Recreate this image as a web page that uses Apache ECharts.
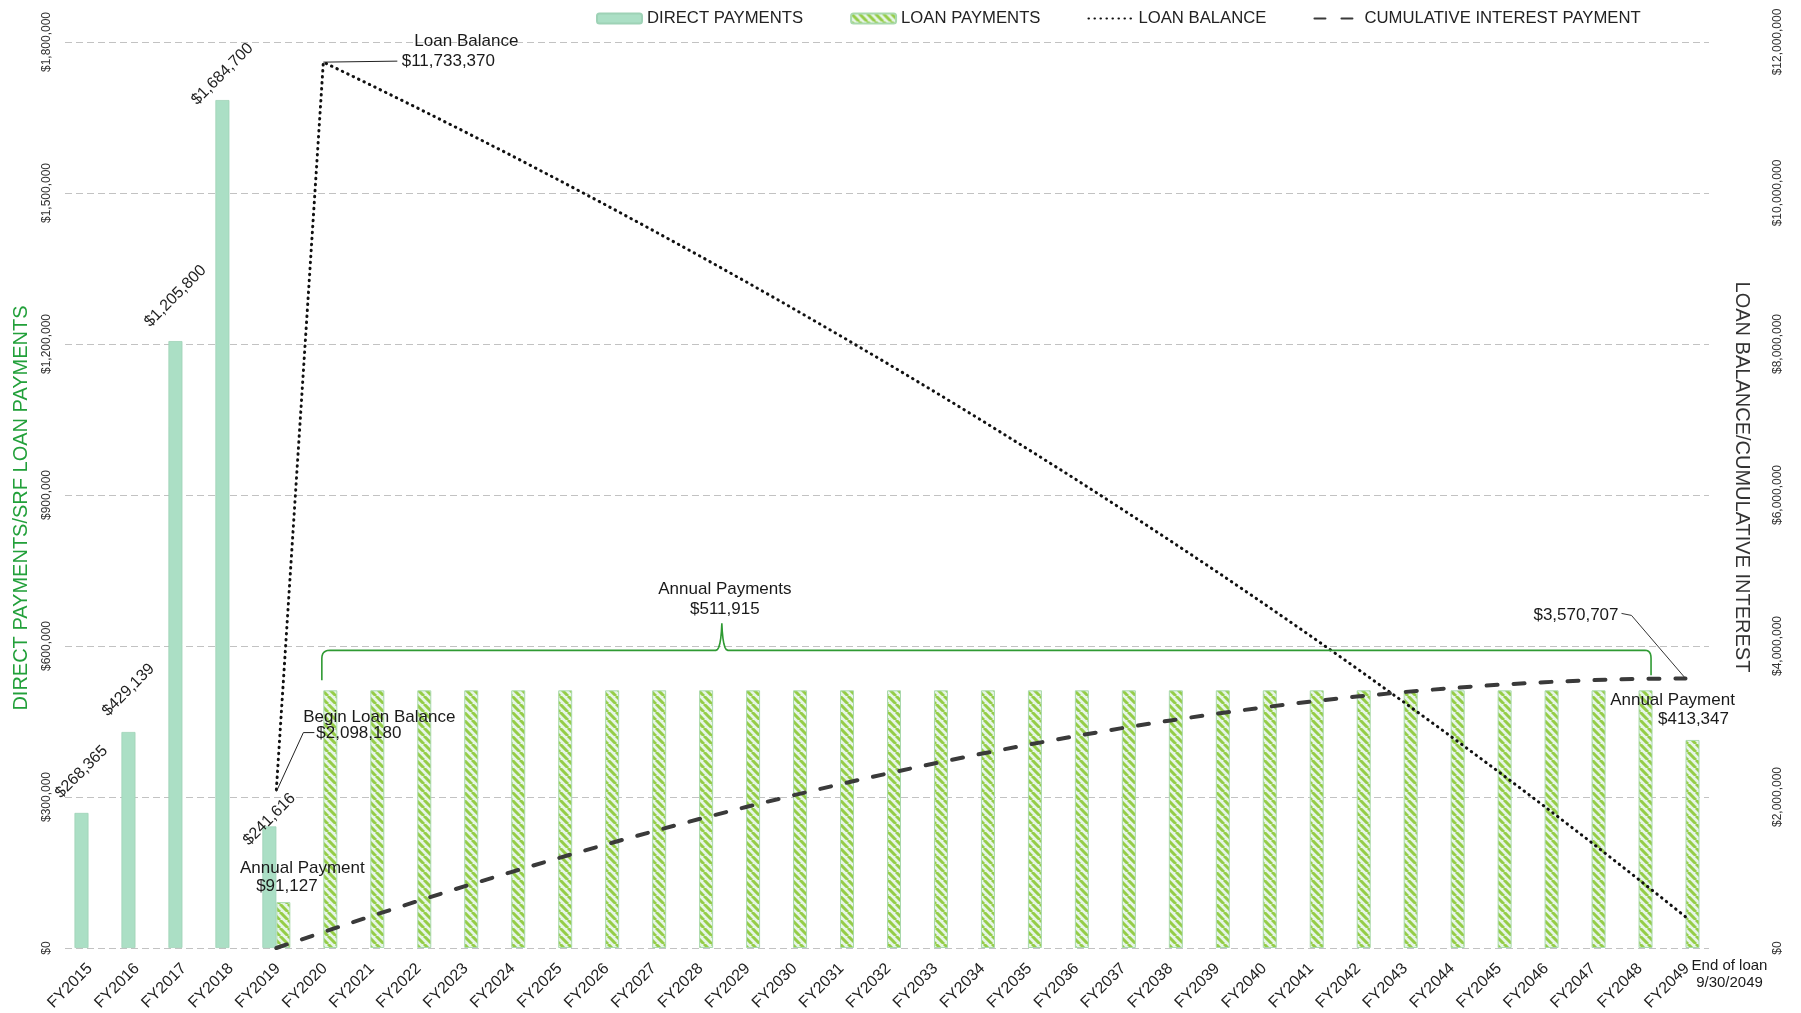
<!DOCTYPE html>
<html>
<head>
<meta charset="utf-8">
<script src="https://cdn.jsdelivr.net/npm/echarts@6/dist/echarts.min.js"></script>
<style>html,body{margin:0;padding:0;background:#fff}#chart{width:1801px;height:1013px}</style>
</head>
<body>
<div id="chart"></div>
<script>
// ---------------- data ----------------
const categories = ['FY2015','FY2016','FY2017','FY2018','FY2019','FY2020','FY2021','FY2022','FY2023','FY2024',
  'FY2025','FY2026','FY2027','FY2028','FY2029','FY2030','FY2031','FY2032','FY2033','FY2034','FY2035','FY2036',
  'FY2037','FY2038','FY2039','FY2040','FY2041','FY2042','FY2043','FY2044','FY2045','FY2046','FY2047','FY2048','FY2049'];
// FY2015..FY2019
const directPayments = [268365, 429139, 1205800, 1684700, 241616];
// FY2019..FY2049
const loanPayments = [91127,
  511915, 511915, 511915, 511915, 511915, 511915, 511915, 511915, 511915, 511915,
  511915, 511915, 511915, 511915, 511915, 511915, 511915, 511915, 511915, 511915,
  511915, 511915, 511915, 511915, 511915, 511915, 511915, 511915, 511915,
  413347];
const loanBalance = [2098180, 11733370, 11433000, 11127000, 10815000, 10498000, 10175000, 9846000, 9511000,
  9171000, 8824000, 8471000, 8111000, 7745000, 7373000, 6994000, 6607000, 6215000, 5814000, 5407000, 4993000,
  4571000, 4141000, 3704000, 3258000, 2805000, 2344000, 1874000, 1396000, 909000, 413000];
const cumulativeInterest = [0, 211000, 418000, 620000, 816000, 1006000, 1190000, 1369000, 1541000, 1708000,
  1868000, 2022000, 2169000, 2310000, 2444000, 2572000, 2692000, 2805000, 2912000, 3011000, 3102000, 3186000,
  3262000, 3330000, 3390000, 3442000, 3486000, 3521000, 3547000, 3565000, 3570707];
const leftTicks = [0, 300000, 600000, 900000, 1200000, 1500000, 1800000];
const rightTicks = [0, 2000000, 4000000, 6000000, 8000000, 10000000, 12000000];
const seriesNames = ['DIRECT PAYMENTS', 'LOAN PAYMENTS', 'LOAN BALANCE', 'CUMULATIVE INTEREST PAYMENT'];

// ---------------- style ----------------
const F = '"Liberation Sans", Arial, sans-serif';
const directLabelLift = [-41, -42, -45, -26, -7];
const loanStart = categories.indexOf('FY2019');
const money = v => '$' + Number(v).toLocaleString('en-US');

function alignTo(vals, start) {
  return categories.map((c, i) => (i >= start && i - start < vals.length) ? vals[i - start] : null);
}
function hatch() {
  const s = 8, c = document.createElement('canvas');
  c.width = c.height = s;
  const g = c.getContext('2d');
  g.fillStyle = '#e6f5e8'; g.fillRect(0, 0, s, s);
  g.strokeStyle = '#95cd47'; g.lineWidth = 3;
  g.beginPath();
  [-s, 0, s].forEach(k => { g.moveTo(k, 0); g.lineTo(k + s, s); });
  g.stroke();
  return c;
}

const directData = alignTo(directPayments, 0).map((v, i) => v == null ? null : {
  value: v, label: { position: ['50%', directLabelLift[i]] }
});

const chart = echarts.init(document.getElementById('chart'), null, { renderer: 'canvas' });
const option = {
  animation: false,
  backgroundColor: '#fff',
  textStyle: { fontFamily: F },
  grid: { left: 65, right: 92, top: 42, bottom: 65, containLabel: false, outerBoundsMode: 'none' },
  legend: {
    left: 591, top: 5, itemWidth: 45, itemHeight: 10, itemGap: 47, selectedMode: false,
    textStyle: { fontSize: 16.7, color: '#222', fontFamily: F },
    data: [
      { name: seriesNames[0] },
      { name: seriesNames[1] },
      { name: seriesNames[2], itemStyle: { opacity: 0 } },
      { name: seriesNames[3], itemStyle: { opacity: 0 } }
    ]
  },
  xAxis: {
    type: 'category', data: categories, boundaryGap: true,
    axisLine: { show: false }, axisTick: { show: false }, splitLine: { show: false },
    axisLabel: { show: false }
  },
  yAxis: [
    {
      type: 'value', min: leftTicks[0], max: leftTicks[leftTicks.length - 1], interval: leftTicks[1] - leftTicks[0],
      axisLine: { show: false }, axisTick: { show: false },
      axisLabel: { rotate: 90, fontSize: 12, color: '#333', margin: 12, formatter: money, fontFamily: F },
      splitLine: { show: true, lineStyle: { color: '#c2c2c2', width: 1, type: [7, 4] } }
    },
    {
      type: 'value', position: 'right', min: rightTicks[0], max: rightTicks[rightTicks.length - 1], interval: rightTicks[1] - rightTicks[0],
      axisLine: { show: false }, axisTick: { show: false },
      axisLabel: { rotate: 90, fontSize: 12, color: '#333', margin: 63, formatter: money, fontFamily: F },
      splitLine: { show: false }
    }
  ],
  series: [
    {
      name: seriesNames[0], type: 'bar', data: directData, barWidth: 14, barGap: '0%',
      itemStyle: { color: '#abdfc5', borderColor: '#9ed2b6', borderWidth: 0.8 },
      label: {
        show: true, rotate: 45, align: 'center', verticalAlign: 'middle', fontSize: 16, color: '#222', fontFamily: F,
        formatter: p => money(p.value)
      }, z: 2
    },
    {
      name: seriesNames[1], type: 'bar', data: alignTo(loanPayments, loanStart), barWidth: 14, barGap: '0%',
      itemStyle: { color: { image: hatch(), repeat: 'repeat' }, borderColor: '#a9d9ac', borderWidth: 1 }, z: 2
    },
    {
      name: seriesNames[2], type: 'line', yAxisIndex: 1, data: alignTo(loanBalance, loanStart), symbol: 'none',
      lineStyle: { color: '#111', width: 3, type: [0.5, 5.5], cap: 'round' }, z: 5
    },
    {
      name: seriesNames[3], type: 'line', yAxisIndex: 1, data: alignTo(cumulativeInterest, loanStart), symbol: 'none',
      lineStyle: { color: '#3a3a3a', width: 4, type: [11, 16], cap: 'round' }, z: 6
    }
  ]
};
chart.setOption(option);

// ---------------- annotations ----------------
const onRight = (i, v) => chart.convertToPixel({ seriesIndex: 2 }, [i, v]);
const onLeft = (i, v) => chart.convertToPixel({ seriesIndex: 1 }, [i, v]);
function txt(x, y, text, extra, rot) {
  return {
    type: 'text', x: x, y: y, z: 100, rotation: rot || 0,
    style: Object.assign({ text: text, fill: '#1a1a1a', font: '17px ' + F, fontSize: 17, fontFamily: F,
      align: 'center', textAlign: 'center', verticalAlign: 'middle', textVerticalAlign: 'middle' }, extra || {})
  };
}
function line(points, color, w) {
  return { type: 'polyline', z: 100, shape: { points: points }, style: { stroke: color || '#222', lineWidth: w || 1, fill: null } };
}
function quad(p0, p1, p2, n) {
  const out = [];
  for (let k = 1; k <= n; k++) {
    const t = k / n, a = (1 - t) * (1 - t), b = 2 * (1 - t) * t, c = t * t;
    out.push([a * p0[0] + b * p1[0] + c * p2[0], a * p0[1] + b * p1[1] + c * p2[1]]);
  }
  return out;
}

const iLast = categories.length - 1;
const P = onRight(loanStart + 1, loanBalance[1]);           // peak
const B = onRight(loanStart, loanBalance[0]);               // begin
const E = onRight(iLast, cumulativeInterest[cumulativeInterest.length - 1]);
const L19 = onLeft(loanStart, loanPayments[0]);
const A = onLeft(loanStart + 1, loanPayments[1]);
const A2 = onLeft(iLast - 1, loanPayments[loanPayments.length - 2]);
const L49 = onLeft(iLast, loanPayments[loanPayments.length - 1]);
const base = onLeft(0, 0);

// brace over annual payments
const bx0 = A[0] - 1.5, bx1 = A2[0] + 12.5, by = A[1] - 40, sx = A[0] + 398.5, sTop = A[1] - 67;
let brace = [[bx0, A[1] - 10], [bx0, by + 8]];
brace = brace.concat(quad([bx0, by + 8], [bx0, by], [bx0 + 8, by], 6));
brace.push([sx - 6, by]);
brace = brace.concat(quad([sx - 6, by], [sx - 1, by], [sx, sTop], 6));
brace = brace.concat(quad([sx, sTop], [sx + 1, by], [sx + 6, by], 6));
brace.push([bx1 - 6, by]);
brace = brace.concat(quad([bx1 - 6, by], [bx1, by], [bx1, by + 8], 6));
brace.push([bx1, A[1] - 15]);

const F15 = { font: '15px ' + F, fontSize: 15 };
const F16r = { font: '16px ' + F, fontSize: 16, fill: '#222', align: 'right', textAlign: 'right' };

// category labels along the x axis, rotated 45 degrees
const xLabels = categories.map((c, i) => {
  const p = onLeft(i, 0);
  return txt(p[0] + 1.5, p[1] + 18, c, F16r, Math.PI / 4);
});

chart.setOption({
  graphic: xLabels.concat([
    line([[P[0], P[1]], [P[0] + 74, P[1] - 1]], '#222', 1),
    txt(P[0] + 143, P[1] - 21, 'Loan Balance'),
    txt(P[0] + 125, P[1] - 1, money(loanBalance[1])),

    line([[B[0], B[1] + 2], [B[0] + 27, B[1] - 57], [B[0] + 38, B[1] - 57]], '#222', 1),
    txt(B[0] + 103, B[1] - 72, 'Begin Loan Balance'),
    txt(B[0] + 82.5, B[1] - 56, money(loanBalance[0])),

    txt(L19[0] + 26, L19[1] - 33.5, 'Annual Payment'),
    txt(L19[0] + 10.5, L19[1] - 15.5, money(loanPayments[0])),

    line(brace, '#2f9a33', 1.6),
    txt(A[0] + 401.5, A[1] - 101, 'Annual Payments'),
    txt(A[0] + 401.5, A[1] - 81, money(loanPayments[1])),

    line([[E[0], E[1]], [E[0] - 54, E[1] - 63], [E[0] - 64, E[1] - 65]], '#333', 1),
    txt(E[0] - 67, E[1] - 63, money(cumulativeInterest[cumulativeInterest.length - 1]), { align: 'right', textAlign: 'right' }),

    txt(L49[0] - 13, L49[1] - 40, 'Annual Payment'),
    txt(L49[0] + 8, L49[1] - 20.5, money(loanPayments[loanPayments.length - 1])),

    txt(E[0] + 44, base[1] + 18, 'End of loan', F15),
    txt(E[0] + 44, base[1] + 35, '9/30/2049', F15),

    { type: 'text', x: 21, y: 508, rotation: Math.PI / 2, z: 100,
      style: { text: 'DIRECT PAYMENTS/SRF LOAN PAYMENTS', fill: '#22a03a', font: '20px ' + F, fontSize: 20,
        align: 'center', textAlign: 'center', verticalAlign: 'middle', textVerticalAlign: 'middle' } },
    { type: 'text', x: 1742, y: 477, rotation: -Math.PI / 2, z: 100,
      style: { text: 'LOAN BALANCE/CUMULATIVE INTEREST', fill: '#333', font: '20px ' + F, fontSize: 20,
        align: 'center', textAlign: 'center', verticalAlign: 'middle', textVerticalAlign: 'middle' } }
  ])
});
</script>
</body>
</html>
